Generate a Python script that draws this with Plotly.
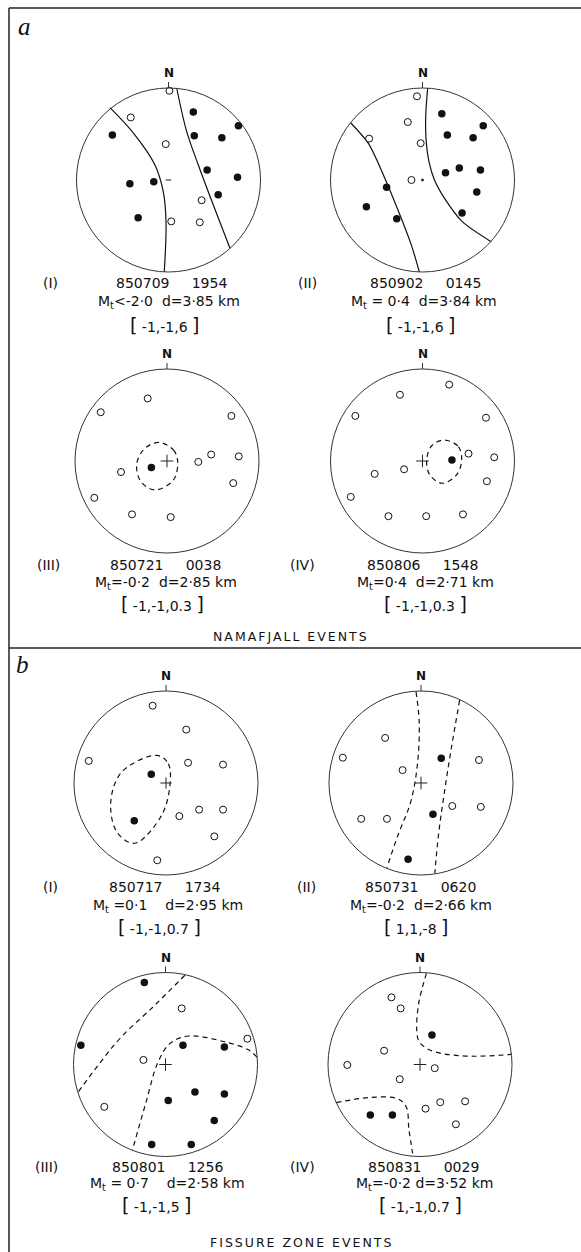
import plotly.graph_objects as go

FIG_W, FIG_H = 581, 1252

# ---------------- text content ----------------
PANEL_IDS = ["aI", "aII", "aIII", "aIV", "bI", "bII", "bIII", "bIV"]
ROMAN = ["(I)", "(II)", "(III)", "(IV)", "(I)", "(II)", "(III)", "(IV)"]
DATES = ["850709", "850902", "850721", "850806", "850717", "850731", "850801", "850831"]
TIMES = ["1954", "0145", "0038", "1548", "1734", "0620", "1256", "0029"]
MAGNITUDES = ["&lt;-2·0", " = 0·4", "=-0·2", "=0·4", " =0·1", "=-0·2", " = 0·7", "=-0·2"]
DEPTHS_KM = ["3·85", "3·84", "2·85", "2·71", "2·95", "2·66", "2·58", "3·52"]
RATIOS = ["-1,-1,6", "-1,-1,6", "-1,-1,0.3", "-1,-1,0.3",
          "-1,-1,0.7", "1,1,-8", "-1,-1,5", "-1,-1,0.7"]
GROUP_TITLES = ["NAMAFJALL EVENTS", "FISSURE ZONE EVENTS"]
GROUP_LETTERS = ["a", "b"]

# ---------------- polarity data (unit stereonet: x = east, y = north) ----------------
AI_OPEN_X = [0.01, -0.41, -0.03, 0.36, 0.03, 0.34]
AI_OPEN_Y = [0.97, 0.68, 0.39, -0.22, -0.45, -0.46]
AI_FILL_X = [0.27, 0.76, 0.28, 0.58, -0.61, 0.42, 0.75, 0.54, -0.42, -0.16, -0.33]
AI_FILL_Y = [0.74, 0.59, 0.48, 0.46, 0.49, 0.11, 0.03, -0.16, -0.04, -0.02, -0.41]
AI_PLANE1_X = [-0.636, -0.364, -0.147, -0.057, -0.027, -0.046]
AI_PLANE1_Y = [0.786, 0.489, 0.163, -0.127, -0.453, -0.997]
AI_PLANE2_X = [0.089, 0.198, 0.324, 0.487, 0.668]
AI_PLANE2_Y = [1.0, 0.525, 0.163, -0.272, -0.742]

AII_OPEN_X = [-0.06, -0.16, -0.58, -0.02, -0.12]
AII_OPEN_Y = [0.91, 0.63, 0.45, 0.40, 0.0]
AII_FILL_X = [0.21, 0.66, 0.27, 0.55, 0.25, 0.40, 0.63, 0.59, 0.43, -0.39, -0.61, -0.28]
AII_FILL_Y = [0.72, 0.59, 0.49, 0.46, 0.08, 0.13, 0.11, -0.13, -0.36, -0.08, -0.29, -0.42]
AII_PLANE1_X = [-0.78, -0.59, -0.41, -0.245, -0.12, -0.035]
AII_PLANE1_Y = [0.62, 0.40, 0.02, -0.38, -0.71, -0.997]
AII_PLANE2_X = [0.056, 0.035, 0.04, 0.07, 0.13, 0.24, 0.43, 0.745]
AII_PLANE2_Y = [0.997, 0.70, 0.42, 0.2, 0.0, -0.2, -0.45, -0.67]

AIII_OPEN_X = [-0.21, -0.72, 0.70, 0.34, 0.48, 0.78, -0.50, 0.72, -0.79, -0.38, 0.04]
AIII_OPEN_Y = [0.68, 0.53, 0.49, -0.01, 0.07, 0.05, -0.12, -0.24, -0.40, -0.58, -0.61]
AIII_FILL_X = [-0.17]
AIII_FILL_Y = [-0.07]
AIII_PLANE1_X = [-0.095, 0.07, 0.116, 0.07, -0.13, -0.283, -0.33, -0.258, -0.095]
AIII_PLANE1_Y = [0.203, 0.12, -0.007, -0.207, -0.315, -0.225, -0.043, 0.12, 0.203]

AIV_OPEN_X = [0.29, -0.245, -0.73, 0.69, 0.50, 0.78, -0.20, -0.52, 0.70, -0.78, -0.37, 0.04, 0.44]
AIV_OPEN_Y = [0.83, 0.72, 0.49, 0.47, 0.08, 0.04, -0.09, -0.14, -0.22, -0.39, -0.60, -0.60, -0.58]
AIV_FILL_X = [0.32]
AIV_FILL_Y = [0.01]
AIV_PLANE1_X = [0.237, 0.39, 0.426, 0.37, 0.215, 0.08, 0.045, 0.1, 0.237]
AIV_PLANE1_Y = [0.228, 0.156, 0.011, -0.152, -0.242, -0.152, 0.011, 0.166, 0.228]

BI_OPEN_X = [-0.145, 0.22, -0.84, 0.24, 0.62, 0.145, 0.36, 0.62, 0.525, -0.095]
BI_OPEN_Y = [0.84, 0.58, 0.24, 0.22, 0.20, -0.36, -0.29, -0.29, -0.58, -0.84]
BI_FILL_X = [-0.16, -0.345]
BI_FILL_Y = [0.095, -0.41]
BI_PLANE1_X = [-0.10, 0.025, 0.043, -0.047, -0.34, -0.535, -0.60, -0.48, -0.10]
BI_PLANE1_Y = [0.30, 0.21, -0.02, -0.35, -0.655, -0.53, -0.20, 0.12, 0.30]

BII_OPEN_X = [-0.39, -0.85, -0.20, 0.63, -0.65, -0.37, 0.34, 0.65]
BII_OPEN_Y = [0.49, 0.275, 0.14, 0.25, -0.39, -0.39, -0.25, -0.26]
BII_FILL_X = [0.22, 0.13, -0.14]
BII_FILL_Y = [0.27, -0.34, -0.83]
BII_PLANE1_X = [-0.054, -0.02, -0.036, -0.11, -0.25, -0.37]
BII_PLANE1_Y = [0.99, 0.67, 0.23, -0.20, -0.565, -0.92]
BII_PLANE2_X = [0.42, 0.33, 0.25, 0.19, 0.15]
BII_PLANE2_Y = [0.90, 0.38, -0.13, -0.565, -0.98]

BIII_OPEN_X = [0.176, 0.89, -0.24, -0.665]
BIII_OPEN_Y = [0.61, 0.28, 0.05, -0.46]
BIII_FILL_X = [-0.23, -0.92, 0.19, 0.64, 0.03, 0.32, 0.64, 0.53, -0.15, 0.28]
BIII_FILL_Y = [0.89, 0.21, 0.21, 0.19, -0.39, -0.30, -0.32, -0.61, -0.87, -0.87]
BIII_PLANE1_X = [0.21, -0.11, -0.48, -0.73, -0.95]
BIII_PLANE1_Y = [0.97, 0.65, 0.30, -0.005, -0.30]
BIII_PLANE2_X = [0.995, 0.90, 0.63, 0.25, 0.05, -0.08, -0.22, -0.36]
BIII_PLANE2_Y = [0.08, 0.16, 0.25, 0.31, 0.23, 0.03, -0.44, -0.93]

BIV_OPEN_X = [-0.31, -0.21, -0.39, -0.79, 0.16, -0.22, 0.06, 0.22, 0.49, 0.39]
BIV_OPEN_Y = [0.73, 0.61, 0.15, -0.005, -0.04, -0.16, -0.48, -0.41, -0.40, -0.65]
BIV_FILL_X = [0.13, -0.54, -0.30]
BIV_FILL_Y = [0.32, -0.55, -0.55]
BIV_PLANE1_X = [0.07, -0.014, -0.035, -0.01, 0.08, 0.235, 0.56, 1.0]
BIV_PLANE1_Y = [0.99, 0.665, 0.36, 0.25, 0.17, 0.12, 0.09, 0.11]
BIV_PLANE2_X = [-0.91, -0.56, -0.25, -0.15, -0.12, -0.08]
BIV_PLANE2_Y = [-0.415, -0.36, -0.37, -0.46, -0.71, -0.965]

OPEN_X = [AI_OPEN_X, AII_OPEN_X, AIII_OPEN_X, AIV_OPEN_X, BI_OPEN_X, BII_OPEN_X, BIII_OPEN_X, BIV_OPEN_X]
OPEN_Y = [AI_OPEN_Y, AII_OPEN_Y, AIII_OPEN_Y, AIV_OPEN_Y, BI_OPEN_Y, BII_OPEN_Y, BIII_OPEN_Y, BIV_OPEN_Y]
FILL_X = [AI_FILL_X, AII_FILL_X, AIII_FILL_X, AIV_FILL_X, BI_FILL_X, BII_FILL_X, BIII_FILL_X, BIV_FILL_X]
FILL_Y = [AI_FILL_Y, AII_FILL_Y, AIII_FILL_Y, AIV_FILL_Y, BI_FILL_Y, BII_FILL_Y, BIII_FILL_Y, BIV_FILL_Y]
PLANES = [
    [(AI_PLANE1_X, AI_PLANE1_Y), (AI_PLANE2_X, AI_PLANE2_Y)],
    [(AII_PLANE1_X, AII_PLANE1_Y), (AII_PLANE2_X, AII_PLANE2_Y)],
    [(AIII_PLANE1_X, AIII_PLANE1_Y)],
    [(AIV_PLANE1_X, AIV_PLANE1_Y)],
    [(BI_PLANE1_X, BI_PLANE1_Y)],
    [(BII_PLANE1_X, BII_PLANE1_Y), (BII_PLANE2_X, BII_PLANE2_Y)],
    [(BIII_PLANE1_X, BIII_PLANE1_Y), (BIII_PLANE2_X, BIII_PLANE2_Y)],
    [(BIV_PLANE1_X, BIV_PLANE1_Y), (BIV_PLANE2_X, BIV_PLANE2_Y)],
]

# ---------------- layout (pixel positions) & styles ----------------
PANEL_CX = [168.5, 422.5, 167.0, 422.5, 166.0, 421.0, 165.5, 420.0]
PANEL_CY = [180.0, 180.0, 461.0, 461.0, 783.0, 783.0, 1064.5, 1064.5]
PANEL_R = 92.0
PAD = 1.2
PLANE_DASH = ["solid", "solid", "5px,4px", "5px,4px", "5px,4px", "5px,4px", "5px,4px", "5px,4px"]
PLANE_SMOOTH = [1.0, 0.8, 1.0, 1.0, 1.0, 1.0, 1.0, 1.0]
CENTER_SYMBOL = ["line-ew", "circle", "cross-thin", "cross-thin", "cross-thin", "cross-thin", "cross-thin", "cross-thin"]
CENTER_SIZE = [4, 2, 9, 9, 8, 9, 9, 9]
ROMAN_X = [50, 307, 48, 302, 50, 306, 46, 302]
DATE_X = [171, 425, 165, 422, 164, 420, 167, 423]
MT_X = [169, 424, 166, 425, 168, 421, 167, 424]
RATIO_X = [164, 420, 162, 425, 159, 416, 156, 420]
DATE_Y = [283, 283, 565, 565, 887, 887, 1167, 1167]
MT_Y = [302, 302, 583, 583, 906, 906, 1184, 1184]
RATIO_Y = [325, 325, 604, 604, 927, 927, 1205, 1205]
MT_GAP = [2, 2, 2, 2, 4, 2, 4, 1]
TITLE_POS = [(291, 636), (301, 1242)]
LETTER_POS = [(24, 27), (22, 664)]

FONT = "DejaVu Sans"
INK = "#111111"
NB = "\u00a0"


def px(x):
    return x / FIG_W


def py(y):
    return 1 - y / FIG_H


fig = go.Figure()
shapes = []
annotations = []

for i, pid in enumerate(PANEL_IDS):
    n = i + 1
    xs = "x" if n == 1 else f"x{n}"
    ys = "y" if n == 1 else f"y{n}"
    cx, cy, r = PANEL_CX[i], PANEL_CY[i], PANEL_R
    fig.layout[f"xaxis{'' if n == 1 else n}"] = dict(
        domain=[px(cx - PAD * r), px(cx + PAD * r)], range=[-PAD, PAD],
        visible=False, fixedrange=True, anchor=ys)
    fig.layout[f"yaxis{'' if n == 1 else n}"] = dict(
        domain=[py(cy + PAD * r), py(cy - PAD * r)], range=[-PAD, PAD],
        visible=False, fixedrange=True, anchor=xs)

    # primitive circle
    shapes.append(dict(type="circle", xref=xs, yref=ys, x0=-1, x1=1, y0=-1, y1=1,
                       line=dict(color="#333333", width=1)))
    # north tick
    shapes.append(dict(type="line", xref=xs, yref=ys, x0=0, x1=0, y0=1, y1=1 + 6 / r,
                       line=dict(color="#333333", width=1)))
    annotations.append(dict(xref=xs, yref=ys, x=0, y=1, yshift=15, text="<b>N</b>",
                            showarrow=False, font=dict(family=FONT, size=12, color=INK),
                            xanchor="center", yanchor="middle"))

    # nodal planes
    for (lx, ly) in PLANES[i]:
        fig.add_trace(go.Scatter(x=lx, y=ly, xaxis=xs, yaxis=ys, mode="lines",
                                 line=dict(color="#111111", width=1.2, dash=PLANE_DASH[i],
                                           shape="spline", smoothing=PLANE_SMOOTH[i]),
                                 hoverinfo="skip", showlegend=False, cliponaxis=False))
    # center mark
    fig.add_trace(go.Scatter(x=[0], y=[0], xaxis=xs, yaxis=ys, mode="markers",
                             marker=dict(symbol=CENTER_SYMBOL[i], size=CENTER_SIZE[i], color="#222222",
                                         line=dict(color="#222222", width=1)),
                             hoverinfo="skip", showlegend=False, cliponaxis=False))
    # dilatations (open)
    fig.add_trace(go.Scatter(x=OPEN_X[i], y=OPEN_Y[i], xaxis=xs, yaxis=ys, mode="markers",
                             marker=dict(symbol="circle", size=7, color="white",
                                         line=dict(color="#111111", width=1)),
                             showlegend=False, cliponaxis=False))
    # compressions (filled)
    fig.add_trace(go.Scatter(x=FILL_X[i], y=FILL_Y[i], xaxis=xs, yaxis=ys, mode="markers",
                             marker=dict(symbol="circle", size=7.5, color="#111111",
                                         line=dict(color="#111111", width=0)),
                             showlegend=False, cliponaxis=False))

    # labels
    fnt = dict(family=FONT, size=14, color=INK)
    annotations.append(dict(xref="paper", yref="paper", x=px(ROMAN_X[i]), y=py(DATE_Y[i]),
                            text=ROMAN[i], showarrow=False, font=fnt,
                            xanchor="center", yanchor="middle"))
    annotations.append(dict(xref="paper", yref="paper", x=px(DATE_X[i]), y=py(DATE_Y[i]),
                            text=DATES[i] + NB * 5 + TIMES[i], showarrow=False, font=fnt,
                            xanchor="center", yanchor="middle"))
    mt = ("M<sub>t</sub>" + MAGNITUDES[i].replace(" ", NB) + NB * MT_GAP[i]
          + "d=" + DEPTHS_KM[i] + NB + "km")
    annotations.append(dict(xref="paper", yref="paper", x=px(MT_X[i]), y=py(MT_Y[i]),
                            text=mt, showarrow=False, font=fnt,
                            xanchor="center", yanchor="middle"))
    br = ('<span style="font-size:19px">[</span>' + NB + RATIOS[i] + NB
          + '<span style="font-size:19px">]</span>')
    annotations.append(dict(xref="paper", yref="paper", x=px(RATIO_X[i]), y=py(RATIO_Y[i]),
                            text=br, showarrow=False, font=fnt,
                            xanchor="center", yanchor="middle"))

# group titles and letters
for k in range(2):
    tx, ty = TITLE_POS[k]
    annotations.append(dict(xref="paper", yref="paper", x=px(tx), y=py(ty),
                            text='<span style="letter-spacing:2px">' + GROUP_TITLES[k] + "</span>",
                            showarrow=False, font=dict(family=FONT, size=12.5, color=INK),
                            xanchor="center", yanchor="middle"))
    lx, ly = LETTER_POS[k]
    annotations.append(dict(xref="paper", yref="paper", x=px(lx), y=py(ly),
                            text="<i>" + GROUP_LETTERS[k] + "</i>", showarrow=False,
                            font=dict(family="Liberation Serif", size=25, color=INK),
                            xanchor="center", yanchor="middle"))

# frame lines
FRAME_LEFT_X = 9
FRAME_TOP_Y = 8
DIVIDER_Y = 648
for x0, y0, x1, y1 in [(FRAME_LEFT_X, FRAME_TOP_Y, FRAME_LEFT_X, FIG_H),
                       (FRAME_LEFT_X, FRAME_TOP_Y, FIG_W, FRAME_TOP_Y),
                       (FRAME_LEFT_X, DIVIDER_Y, FIG_W, DIVIDER_Y)]:
    shapes.append(dict(type="line", xref="paper", yref="paper",
                       x0=px(x0), y0=py(y0), x1=px(x1), y1=py(y1),
                       line=dict(color="#222222", width=1.5)))

fig.update_layout(width=FIG_W, height=FIG_H, margin=dict(l=0, r=0, t=0, b=0),
                  paper_bgcolor="white", plot_bgcolor="white",
                  shapes=shapes, annotations=annotations, showlegend=False)

fig.write_html("out.html", config={"displayModeBar": False},
               post_script="document.body.style.margin='0';document.body.style.overflow='hidden';")
